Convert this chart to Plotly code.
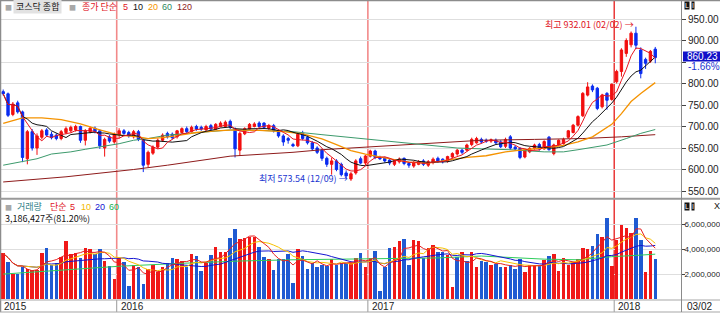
import pandas as pd
import plotly.graph_objects as go

W, H = 720, 314

# ---------------- data (weekly KOSDAQ, 2015-07-24 .. 2018-03-02) ----------------
OPEN = [781,776,728,755,734,625,688,650,675,692,682,680,672,686,690,692,700,668,688,696,
        690,650,676,664,680,690,686,676,688,668,612,638,652,668,684,682,676,686,695,688,
        700,698,692,702,694,700,700,712,694,645,683,694,700,708,708,696,702,690,678,672,
        658,655,684,675,662,650,645,626,612,620,612,592,578,592,625,615,631,643,628,626,
        622,612,618,626,614,608,612,620,610,616,626,624,620,629,636,645,645,658,662,670,
        668,666,668,664,654,676,652,649,629,641,649,658,648,675,637,657,660,675,686,703,
        725,773,794,789,746,777,763,804,828,870,890,917,878,856,852,880]
HIGH = [786,779,757,760,737,692,694,684,694,696,688,684,692,700,702,704,702,694,700,700,
        694,674,680,686,696,694,690,692,692,672,644,656,672,684,688,686,692,698,700,702,
        704,702,704,706,708,712,714,716,698,688,698,708,710,712,710,706,706,694,682,676,
        662,686,690,680,666,654,648,630,628,624,616,598,594,624,630,634,646,646,632,630,
        626,624,628,628,618,620,622,624,622,628,630,626,632,640,648,648,660,674,676,674,
        672,672,672,668,674,680,656,652,648,652,660,662,668,678,660,670,674,692,706,726,
        780,803,798,792,776,780,800,832,882,905,921,932.01,884,860,878,885]
LOW = [772,722,724,730,617,612,644,634,670,676,670,668,668,682,686,688,662,656,684,684,
       648,630,662,660,672,678,674,672,666,594,605,634,648,664,672,670,672,684,684,686,
       690,690,690,690,692,698,698,694,628,632,680,692,698,698,694,692,686,674,655,660,
       652,652,668,658,644,636,620,606,588,596,584,580,573.54,588,612,610,628,624,622,616,
       610,608,614,610,604,604,610,608,606,612,616,614,616,626,632,636,642,654,660,660,
       662,662,658,650,650,646,644,624,626,638,646,644,646,644,633,654,658,672,684,700,
       722,770,780,738,742,739,760,800,816,862,884,880,812,834,848,847]
CLOSE = [776,726,752,734,628,688,650,678,690,680,674,672,688,695,698,700,668,690,696,688,
         655,670,666,682,690,684,678,688,670,610,640,652,668,680,676,674,690,695,688,698,
         694,694,700,694,705,708,710,698,648,684,695,705,706,700,698,702,690,678,664,668,
         655,682,672,662,648,640,626,612,620,600,588,585,590,620,615,631.44,643,628,625,620,
         615,620,624,614,610,616,618,612,618,624,620,618,630,637,645,640,657,670,672,664,
         666,669,662,653,670,650,648,628,645,649,657,648,665,646,657,668,670,690,703,723,
         777,792,785,742,773,761,798.42,828,878,900,917,889,823,847,874.75,860.23]
VOLUME_M = [3.66,2.99,2.00,2.00,2.60,2.41,2.36,2.36,3.68,4.10,2.77,2.91,3.35,4.65,3.63,3.68,3.32,4.10,4.01,3.60,
            4.01,3.05,2.63,1.59,3.32,2.97,1.03,2.77,2.55,1.17,2.41,2.77,2.14,2.55,2.91,3.32,3.19,3.05,2.55,3.60,
            3.46,2.22,2.91,3.52,4.15,3.79,3.79,4.90,5.61,4.84,4.90,4.98,4.98,4.20,3.38,3.19,2.30,3.19,3.24,3.60,
            1.31,4.01,3.46,2.41,2.91,2.55,2.77,2.69,3.19,2.77,2.91,2.91,2.91,3.30,3.66,2.55,3.27,3.88,0.62,2.55,
            4.10,4.20,4.65,4.79,2.77,4.76,4.62,3.32,4.10,4.37,3.74,3.74,3.52,0.98,3.38,3.74,3.05,3.74,2.55,3.05,
            2.99,2.77,2.83,2.58,2.55,2.72,2.41,3.19,2.14,2.77,2.77,2.69,3.10,3.46,3.60,2.22,3.32,2.72,2.97,3.19,
            4.10,4.01,4.29,5.25,4.98,6.50,2.63,4.76,5.94,5.67,5.31,6.50,4.70,2.14,3.88,3.186427]
VOL_DIR = ("RBRBBRRRRBBBRRRRBRRBBRBRRBBRBBRRRRBBRRBRBBRBRRRBBR"
           "RRRBBRBBBBBRBBBBBBRBBBRRBRRBBBBRRBBRRBRRBBRRBRBRR"
           "BBRBBRBBBRRRBRBRRRRRRRRBBRBRRRRRBBRRB")
VOL_RATIO_PCT = 81.20

# longer moving averages (week index, value)
MA20_PTS = [(0,707),(4,720),(8,720),(12,716),(16,706),(20,692),(24,680),(28,676),(30,672),(33,674),
            (36,679),(40,686),(44,690),(48,692),(53,691),(58,688),(62,683),(66,671),(69,658),(72,644),
            (75,636),(78,629),(81,623),(84,617),(88,615),(92,622),(96,628),(100,632),(104,641),(108,646),
            (112,650),(116,656),(119,664),(122,676),(124,690),(126,705),(128,730),(130,758),(132,777),(135,802)]
MA60_PTS = [(0,610),(4,618),(7,625),(10,636),(14,641),(17,647),(20,653),(24,660),(27,668),(30,672),
            (34,680),(38,684),(42,688),(47,692),(53,691),(60,688),(66,681),(73,673),(80,665),(87,658),
            (94,650),(99,648),(105,646),(112,641),(116,641),(119,646),(122,651),(125,657),(129,672),(132,684),(135,693)]
MA120_PTS = [(0,571),(13,583),(27,600),(34,610),(47,631),(60,640),(66,646),(75,652),(93,665),(99,668),
             (110,670),(120,672),(128,676),(135,681)]
VMA60_PTS = [(0,2.0),(12,2.3),(24,2.63),(36,2.85),(49,3.05),(60,3.15),(76,3.2),(90,3.3),(99,3.45),
             (105,3.35),(112,3.2),(119,3.15),(126,3.4),(131,3.5),(135,3.6)]

YEAR_LABELS = ["2015", "2016", "2017", "2018"]
YEAR_FIRST_WEEK = [0, 24, 76, 127]
PRICE_TICKS = [550, 600, 650, 700, 750, 800, 850, 900, 950]
VOL_TICKS = [2_000_000, 4_000_000, 6_000_000]

# ---------------- helpers ----------------
def px(x):
    return x / W

def py(y):
    return 1 - y / H

N = len(CLOSE)
xs = list(range(N))
close_s = pd.Series(CLOSE, dtype=float)
vol = [v * 1_000_000 for v in VOLUME_M]
vol_s = pd.Series(vol, dtype=float)

RED = "#f20f0f"
BLUE = "#0a2cf0"
NUMFONT = "Liberation Sans Narrow, Liberation Sans, Arial"
KFONT = "Noto Sans CJK KR"

fig = go.Figure()

fig.add_trace(go.Candlestick(
    x=xs, open=OPEN, high=HIGH, low=LOW, close=CLOSE,
    increasing=dict(line=dict(color=RED, width=1), fillcolor=RED),
    decreasing=dict(line=dict(color=BLUE, width=1), fillcolor=BLUE),
    whiskerwidth=0, hoverinfo="skip", xaxis="x", yaxis="y", showlegend=False))

def line(xv, yv, color, xa="x", ya="y", width=1.0):
    fig.add_trace(go.Scatter(x=xv, y=yv, mode="lines", line=dict(color=color, width=width),
                             hoverinfo="skip", showlegend=False, xaxis=xa, yaxis=ya))

line([p[0] for p in MA120_PTS], [p[1] for p in MA120_PTS], "#8e1b1b")
line([p[0] for p in MA60_PTS], [p[1] for p in MA60_PTS], "#3c9a6c")
line([p[0] for p in MA20_PTS], [p[1] for p in MA20_PTS], "#f59300", width=1.3)
line(xs, close_s.rolling(10, min_periods=1).mean(), "#111111")
line(xs, close_s.rolling(5, min_periods=1).mean(), "#e8141e")

vcolors = ["#f01818" if d == "R" else "#1f5ad2" for d in VOL_DIR]
fig.add_trace(go.Bar(x=xs, y=vol, marker=dict(color=vcolors, line=dict(width=0)), width=0.72,
                     hoverinfo="skip", showlegend=False, xaxis="x2", yaxis="y2"))
line([p[0] for p in VMA60_PTS], [p[1] * 1e6 for p in VMA60_PTS], "#2ecc5c", "x2", "y2")
line(xs, vol_s.rolling(20, min_periods=1).mean(), "#1414d2", "x2", "y2")
line(xs, vol_s.rolling(10, min_periods=1).mean(), "#f7c200", "x2", "y2")
line(xs, vol_s.rolling(5, min_periods=1).mean(), "#e82020", "x2", "y2")

# ---------------- axes ----------------
XR = [(1 - 3.2) / 4.83, (681 - 3.2) / 4.83]
xdom = [px(1), px(681)]
price_range = [750 + (105 - 198) / 0.43, 750 + (105 - 1) / 0.43]
# the level hidden behind the current-price box keeps its tick but no label
price_ticktext = ["" if v == 850 else f"{v:.2f}" for v in PRICE_TICKS]

axfont = dict(family=NUMFONT, size=10, color="#222")
vaxfont = dict(family=NUMFONT, size=8, color="#222")
fig.update_layout(
    width=W, height=H, margin=dict(l=0, r=0, t=0, b=0, autoexpand=False),
    paper_bgcolor="white", plot_bgcolor="white", showlegend=False,
    bargap=0,
    xaxis=dict(domain=xdom, range=XR, showgrid=False, showticklabels=False, zeroline=False,
               rangeslider=dict(visible=False), anchor="y", automargin=False),
    xaxis2=dict(domain=xdom, range=XR, showgrid=False, showticklabels=False, zeroline=False,
                anchor="y2", matches="x", automargin=False),
    yaxis=dict(domain=[py(198), py(1)], range=price_range, side="right", anchor="x",
               tickvals=PRICE_TICKS, ticktext=price_ticktext,
               showgrid=True, gridcolor="#dedede", gridwidth=1, zeroline=False, automargin=False,
               ticks="outside", ticklen=4, tickcolor="#444", tickfont=axfont),
    yaxis2=dict(domain=[py(299), py(200)], range=[0, 7.95e6], side="right", anchor="x2",
                tickvals=VOL_TICKS, ticktext=[f"{v:,}" for v in VOL_TICKS],
                showgrid=True, gridcolor="#dedede", gridwidth=1, zeroline=False, automargin=False,
                ticks="outside", ticklen=3, tickcolor="#444", tickfont=vaxfont,
                ticklabelstandoff=-2),
)

# ---------------- frame / separators ----------------
shapes = []
def pline(x0, y0, x1, y1, color, width=1, layer="above"):
    shapes.append(dict(type="line", xref="paper", yref="paper", x0=px(x0), y0=py(y0),
                       x1=px(x1), y1=py(y1), line=dict(color=color, width=width), layer=layer))

# year boundary lines (between last week of a year and first of the next)
for k, i0 in enumerate(YEAR_FIRST_WEEK[1:]):
    xb = i0 - 0.5
    col = "rgba(232,40,40,0.55)" if k < 2 else "#e61919"
    shapes.append(dict(type="line", xref="x", yref="paper", x0=xb, x1=xb, y0=py(299), y1=py(1),
                       line=dict(color=col, width=1.6 if k < 2 else 1.3), layer="below"))
    xp = 3.2 + 4.83 * xb
    pline(xp, 300, xp, 312, "#9a9a9a", 1)

pline(0, 0.5, 720, 0.5, "#8c8c8c", 1.5)
pline(0.5, 0, 0.5, 312, "#8c8c8c", 1.5)
pline(0, 198.8, 720, 198.8, "#9a9a9a", 2)
pline(0, 300, 720, 300, "#a8a8a8", 1.2)
pline(0, 312, 720, 312, "#a8a8a8", 1.2)
pline(681.5, 0, 681.5, 312, "#8a8a8a", 1)
# current price box
shapes.append(dict(type="rect", xref="paper", yref="paper", x0=px(683), x1=px(720),
                   y0=py(61.5), y1=py(51.5), fillcolor="#1010c8", line=dict(width=0)))
fig.update_layout(shapes=shapes)

# ---------------- texts ----------------
ann = []
def text(x, y, s, color="#111", size=9, family=KFONT, bg=None, xanchor="left", **kw):
    d = dict(x=px(x), y=py(y), xref="paper", yref="paper", text=s, showarrow=False,
             xanchor=xanchor, yanchor="middle", font=dict(family=family, size=size, color=color))
    if bg:
        d.update(bgcolor=bg, borderpad=0)
    d.update(kw)
    ann.append(d)

# price legend
text(3, 7, "■", "#a8a8a8", 7)
text(13, 7, " 코스닥 종합 ", "#111", 9, bg="#e2e2e2")
text(67, 7, "■", "#a8a8a8", 7)
text(80, 7, "종가 단순", "#e0141e", 9)
text(121, 7, "5", "#e0141e", 9, NUMFONT)
text(131, 7, "10", "#111111", 9, NUMFONT)
text(146, 7, "20", "#f59300", 9, NUMFONT)
text(160, 7, "60", "#2f8a5c", 9, NUMFONT)
text(175, 7, "120", "#8e1b1b", 9, NUMFONT)

# volume legend
text(3, 206.5, "■", "#a8a8a8", 7)
text(15, 206.5, "거래량", "#2f8088", 9)
text(48, 206.5, "단순", "#e0141e", 9)
text(68, 206.5, "5", "#e0141e", 9, NUMFONT)
text(79, 206.5, "10", "#f2b800", 9, NUMFONT)
text(93, 206.5, "20", "#1414d2", 9, NUMFONT)
text(107, 206.5, "60", "#22b04e", 9, NUMFONT)
last_vol = vol[-1]
text(3, 218, f"{int(round(last_vol)):,}주({VOL_RATIO_PCT:.2f}%)", "#111", 9)

# high / low markers
hi_i = max(range(N), key=lambda i: HIGH[i])
lo_i = min(range(N), key=lambda i: LOW[i])
text(543, 25, f"최고 {HIGH[hi_i]:.2f} (02/02) →", "#e0141e", 9)
text(257, 178, f"최저 {LOW[lo_i]:.2f} (12/09) →", "#1a34d0", 9)

# current price + change
chg = (CLOSE[-1] / CLOSE[-2] - 1) * 100
text(685, 56.5, f"{CLOSE[-1]:.2f}", "white", 10, NUMFONT)
text(686, 66.5, f"{chg:.2f}%", "#1a34d0", 10, NUMFONT)

# small panel icons
for yy in (6, 206):
    text(684, yy, "L", "white", 7, NUMFONT, bg="#111")
    text(691, yy, "I", "white", 7, NUMFONT, bg="#111")
text(712, 206, "X", "#111", 9, NUMFONT)

# x labels
for lab, i0 in zip(YEAR_LABELS, YEAR_FIRST_WEEK):
    xp = 3.2 + 4.83 * (i0 - 0.5) + 2 if i0 > 0 else 2
    text(xp, 306, lab, "#222", 10, NUMFONT)
text(685, 306, "03/02", "#222", 10, NUMFONT)

fig.update_layout(annotations=ann)
fig.write_html("out.html")
